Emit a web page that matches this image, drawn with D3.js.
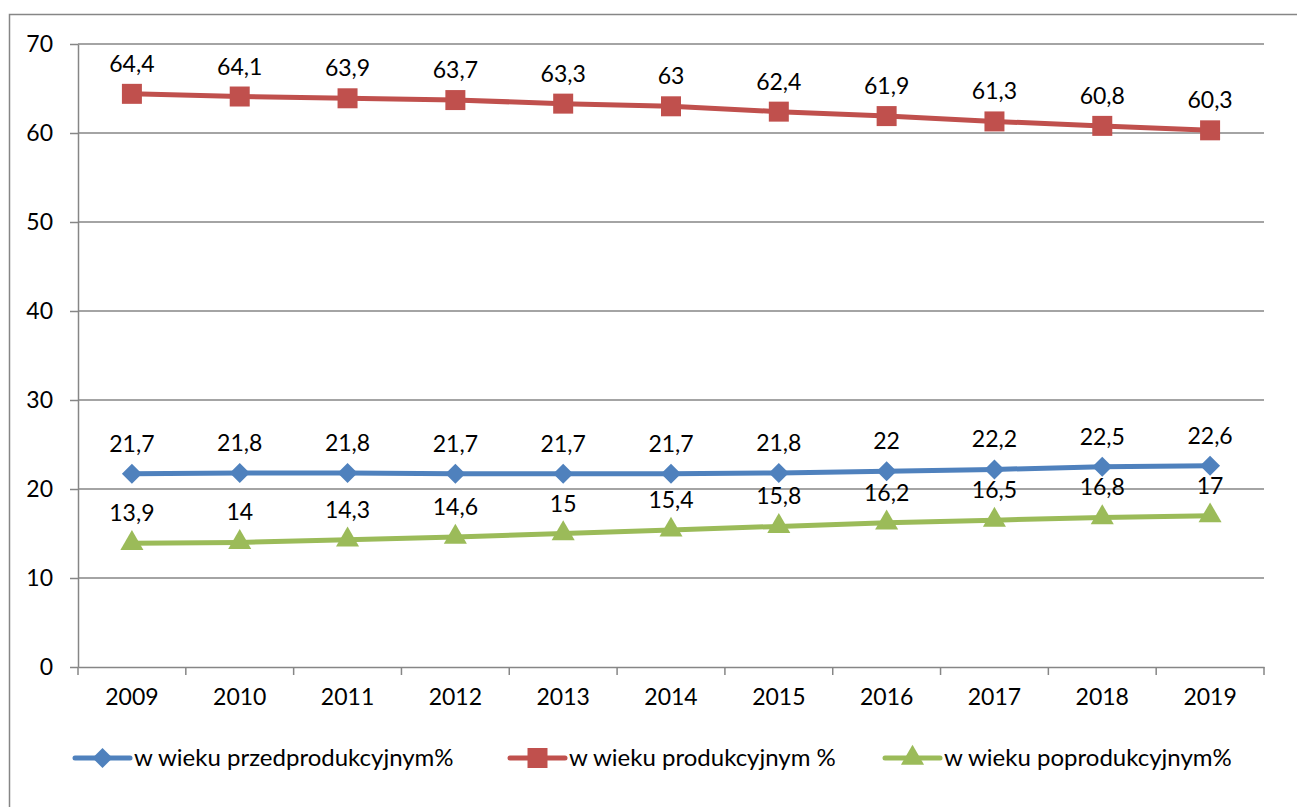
<!DOCTYPE html>
<html>
<head>
  <meta charset="utf-8">
  <script src="https://d3js.org/d3.v7.min.js"></script>
  <style>
  body { margin: 0; background: #fff; }
  text { font-family: Lato, "Open Sans", sans-serif; fill: #000; }
  </style>
</head>
<body>
<div id="chart"></div>
<script>
// data
var years = ["2009","2010","2011","2012","2013","2014","2015","2016","2017","2018","2019"];
var przed = [21.7, 21.8, 21.8, 21.7, 21.7, 21.7, 21.8, 22, 22.2, 22.5, 22.6];
var prod = [64.4, 64.1, 63.9, 63.7, 63.3, 63, 62.4, 61.9, 61.3, 60.8, 60.3];
var poprod = [13.9, 14, 14.3, 14.6, 15, 15.4, 15.8, 16.2, 16.5, 16.8, 17];
var yTicks = [0, 10, 20, 30, 40, 50, 60, 70];
var seriesNames = ["w wieku przedprodukcyjnym%", "w wieku produkcyjnym %", "w wieku poprodukcyjnym%"];

var W = 1297, H = 807;
var FS = "23px";

// diamond drawn as a square turned 45 degrees
var diamond = {
  draw: function(ctx, size) {
    var r = Math.sqrt(size / 2);
    ctx.moveTo(0, -r); ctx.lineTo(r, 0); ctx.lineTo(0, r); ctx.lineTo(-r, 0); ctx.closePath();
  }
};

var series = [
  {name: seriesNames[0], values: przed, color: "#4F81BD", symbol: diamond, size: 200},
  {name: seriesNames[1], values: prod, color: "#C0504D", symbol: d3.symbolSquare, size: 400},
  {name: seriesNames[2], values: poprod, color: "#9BBB59", symbol: d3.symbolTriangle, size: 230}
];

var svg = d3.select("#chart").append("svg")
  .attr("width", W)
  .attr("height", H);

// outer chart frame
svg.append("rect")
  .attr("x", 9.5).attr("y", 14.5)
  .attr("width", W + 10).attr("height", H + 10)
  .attr("fill", "none")
  .attr("stroke", "#868686")
  .attr("stroke-width", 1.5);

var pLeft = 78, pRight = 1264, pTop = 44, pBottom = 667;

var x = d3.scaleBand().domain(years).range([pLeft, pRight]);
var y = d3.scaleLinear().domain([0, 70]).range([pBottom, pTop]);

// gridlines
svg.append("g").selectAll("line")
  .data(yTicks.filter(function(d) { return d > 0; }))
  .enter().append("line")
  .attr("x1", pLeft).attr("x2", pRight)
  .attr("y1", function(d) { return y(d); })
  .attr("y2", function(d) { return y(d); })
  .attr("stroke", "#868686")
  .attr("stroke-width", 1.5);

// y axis
var yAxis = svg.append("g")
  .attr("transform", "translate(" + pLeft + ",0)")
  .call(d3.axisLeft(y).tickValues(yTicks).tickSize(8).tickPadding(17).tickSizeOuter(0));
yAxis.selectAll("text").style("font-size", FS).attr("fill", "#000");

// x axis
var xAxis = svg.append("g")
  .attr("transform", "translate(0," + pBottom + ")")
  .call(d3.axisBottom(x).tickSize(0).tickPadding(22).tickSizeOuter(0));
xAxis.selectAll("text").style("font-size", FS).attr("fill", "#000");
// tick marks on category boundaries
xAxis.selectAll(".bound")
  .data(years.concat(["end"]))
  .enter().append("line")
  .attr("class", "bound")
  .attr("x1", function(d, i) { return pLeft + i * x.step(); })
  .attr("x2", function(d, i) { return pLeft + i * x.step(); })
  .attr("y1", 0).attr("y2", 8)
  .attr("stroke", "#868686")
  .attr("stroke-width", 1.5);

svg.selectAll(".domain, .tick line")
  .attr("stroke", "#868686")
  .attr("stroke-width", 1.5);

var cx = function(d, i) { return x(years[i]) + x.bandwidth() / 2; };
var line = d3.line()
  .x(function(d, i) { return cx(d, i); })
  .y(function(d) { return y(d); });

series.forEach(function(s) {
  var g = svg.append("g");
  g.append("path")
    .datum(s.values)
    .attr("d", line)
    .attr("fill", "none")
    .attr("stroke", s.color)
    .attr("stroke-width", 5)
    .attr("stroke-linejoin", "round");
  g.selectAll(".mk")
    .data(s.values)
    .enter().append("path")
    .attr("d", d3.symbol().type(s.symbol).size(s.size))
    .attr("transform", function(d, i) { return "translate(" + cx(d, i) + "," + y(d) + ")"; })
    .attr("fill", s.color);
  g.selectAll(".lbl")
    .data(s.values)
    .enter().append("text")
    .attr("x", function(d, i) { return cx(d, i); })
    .attr("y", function(d) { return y(d) - 22; })
    .attr("text-anchor", "middle")
    .style("font-size", FS)
    .text(function(d) { return String(d).replace(".", ","); });
});

// legend
var legX = [75, 510, 885];
var legY = 758;
series.forEach(function(s, i) {
  var g = svg.append("g").attr("transform", "translate(" + legX[i] + "," + legY + ")");
  g.append("line")
    .attr("x1", 0).attr("x2", 55)
    .attr("stroke", s.color)
    .attr("stroke-width", 5)
    .attr("stroke-linecap", "round");
  g.append("path")
    .attr("d", d3.symbol().type(s.symbol).size(s.size))
    .attr("transform", "translate(27.5,0)")
    .attr("fill", s.color);
  g.append("text")
    .attr("x", 59)
    .attr("dy", "0.35em")
    .style("font-size", "24px")
    .text(s.name);
});
</script>
</body>
</html>
